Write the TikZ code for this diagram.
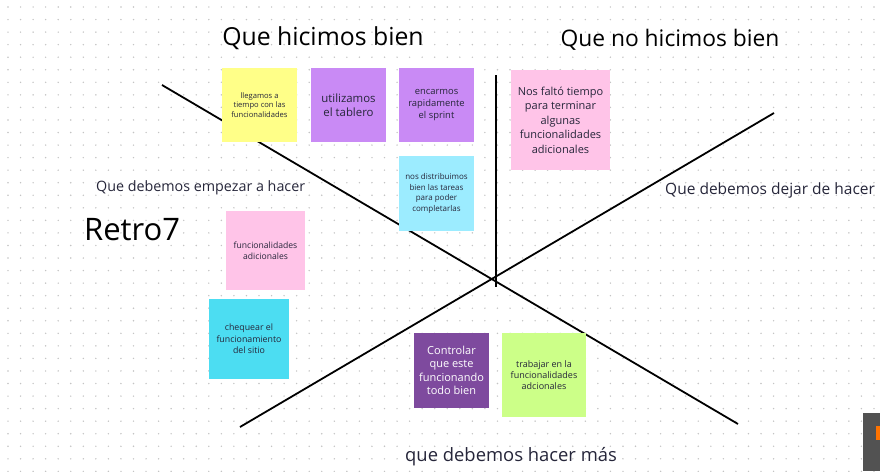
\documentclass[tikz,border=0pt]{standalone}
\usepackage{fontspec}
\setmainfont{Open Sans}
\definecolor{cyel}{HTML}{FFFF88}
\definecolor{cpur}{HTML}{C98AF5}
\definecolor{clcy}{HTML}{9CECFF}
\definecolor{cpink}{HTML}{FFC4E8}
\definecolor{ccy}{HTML}{4CDDF2}
\definecolor{cdpur}{HTML}{7E4A9E}
\definecolor{cgrn}{HTML}{CCFF88}
\definecolor{ctxt}{HTML}{26263A}
\definecolor{cdot}{HTML}{C4C4C4}
\begin{document}
\begin{tikzpicture}[x=1pt,y=-1pt,
  note/.style={anchor=north west,inner sep=0pt,outer sep=0pt,align=center,text=ctxt},
  bigtitle/.style={text=black,inner sep=0pt},
  lab/.style={text=ctxt,inner sep=0pt,anchor=west},
  axis/.style={line width=1.8pt,black}]
\useasboundingbox[fill=white] (0,0) rectangle (880,471);
% dot grid
\foreach \i in {0,...,70}{
  \foreach \j in {0,...,37}{
    \fill[cdot] (8+\i*12.55, 7+\j*12.55) circle (0.8);
  }
}
% axes
\coordinate (l1a) at (162,85);
\coordinate (l1b) at (738,424);
\coordinate (l2a) at (240,427);
\coordinate (l2b) at (774,113);
\coordinate (vt) at (496,75);
\coordinate (vb) at (496,287);
\draw[axis] (l1a) -- (l1b);
\draw[axis] (l2a) -- (l2b);
\draw[axis] (vt) -- (vb);
% notes
\node[note,fill=cyel,minimum width=75,minimum height=74,font=\fontsize{7.6}{9.5}\selectfont] (n1) at (222,68) {llegamos a\\tiempo con las\\funcionalidades};
\node[note,fill=cpur,minimum width=75,minimum height=74,font=\fontsize{11.4}{14}\selectfont] (n2) at (311,68) {utilizamos\\el tablero};
\node[note,fill=cpur,minimum width=75,minimum height=74,font=\fontsize{9.4}{12}\selectfont] (n3) at (399,68) {encarmos\\rapidamente\\el sprint};
\node[note,fill=clcy,minimum width=75,minimum height=75,font=\fontsize{8}{10.5}\selectfont] (n4) at (399,156) {nos distribuimos\\bien las tareas\\para poder\\completarlas};
\node[note,fill=cpink,minimum width=99,minimum height=100,font=\fontsize{11}{14.5}\selectfont] (n5) at (511,70) {Nos faltó tiempo\\para terminar\\algunas\\funcionalidades\\adicionales};
\node[note,fill=cpink,minimum width=79,minimum height=79,font=\fontsize{8.6}{11.5}\selectfont] (n6) at (226,211) {funcionalidades\\adicionales};
\node[note,fill=ccy,minimum width=80,minimum height=80,font=\fontsize{8.8}{11.5}\selectfont] (n7) at (209,299) {chequear el\\funcionamiento\\del sitio};
\node[note,fill=cdpur,text=white,minimum width=75,minimum height=75,font=\fontsize{11}{13.5}\selectfont] (n8) at (414,333) {Controlar\\que este\\funcionando\\todo bien};
\node[note,fill=cgrn,minimum width=84,minimum height=84,font=\fontsize{9}{11}\selectfont] (n9) at (502,333) {trabajar en la\\funcionalidades\\adcionales};
% titles and labels
\node[bigtitle,font=\fontsize{24.8}{28}\selectfont] (t1) at (323,38) {Que hicimos bien};
\node[bigtitle,font=\fontsize{22.8}{26}\selectfont] (t2) at (670,40) {Que no hicimos bien};
\node[lab,font=\fontsize{14.3}{16}\selectfont] (t3) at (96,188) {Que debemos empezar a hacer};
\node[lab,font=\fontsize{15.5}{17}\selectfont] (t4) at (665,190) {Que debemos dejar de hacer};
\node[lab,font=\fontsize{18.4}{20}\selectfont] (t5) at (405,457) {que debemos hacer más};
\node[font=\fontsize{31}{34}\selectfont,text=black,inner sep=0pt,anchor=west] (t6) at (84,230) {Retro7};
% corner widget
\fill[black!68] (863,413) rectangle (880,471);
\fill[orange!90!red] (876,426) rectangle (880,440);
\end{tikzpicture}
\end{document}
